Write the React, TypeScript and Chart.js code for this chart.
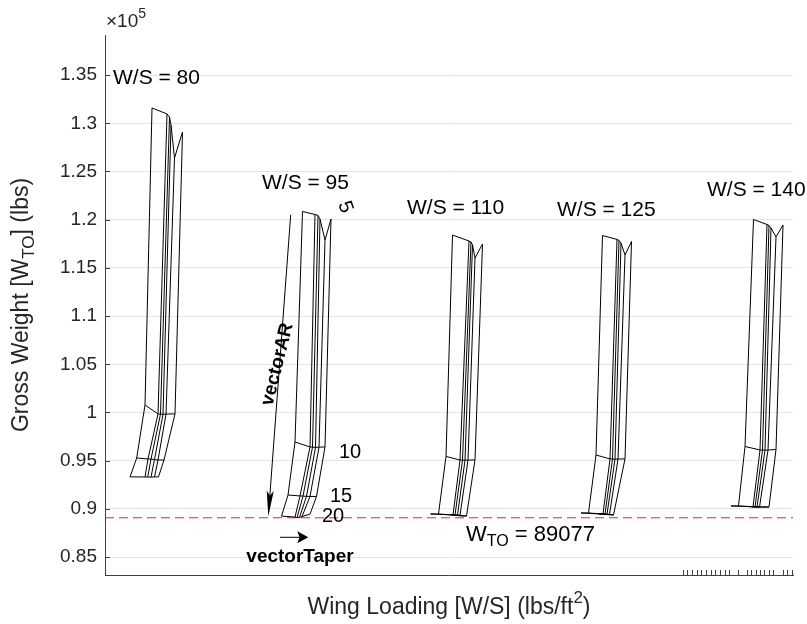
import { useEffect, useRef } from 'react';
import { Chart, registerables } from 'chart.js';
Chart.register(...registerables);

const FONT = '"Liberation Sans", Arial, Helvetica, sans-serif';

// Carpet plot: rows = aspect ratio 5, 10, 15, 20 ; columns = taper lines (vectorTaper)
const wingLoadings = [80, 95, 110, 125, 140];
const aspectRatios = [5, 10, 15, 20];

// shifted carpet abscissa (arbitrary units)
const carpetX_WS80 = [
  [47, 62, 64.5, 66, 69.5, 77.5],
  [40, 53, 55.5, 58, 61, 70],
  [31.7, 43, 46, 49.5, 53, 59],
  [25, 40, 42.7, 46, 49.5, 53.5],
];
const gtow_WS80 = [
  [131590, 130970, 130650, 129820, 126400, 129100],
  [100780, 99850, 99830, 99810, 99830, 99860],
  [95280, 95180, 95170, 95125, 95070, 95070],
  [93320, 93310, 93300, 93300, 93310, 93320],
];

const carpetX_WS95 = [
  [197.5, 210, 213, 215, 220, 226],
  [190, 205, 207.5, 210.5, 214, 220],
  [183, 195, 198, 201.5, 205, 211.5],
  [176.5, 190, 192, 194.5, 197, 205],
];
const gtow_WS95 = [
  [120850, 120540, 120440, 120070, 117890, 120070],
  [96940, 96420, 96400, 96380, 96400, 96430],
  [91440, 91340, 91330, 91300, 91290, 91290],
  [89250, 89150, 89077, 89120, 89200, 89450],
];

const carpetX_WS110 = [
  [347.5, 364, 366, 367.5, 370, 377.5],
  [341, 355, 357.5, 360, 363, 370],
  [333.5, 348, 350, 352.5, 355, 361.5],
  [325.5, 345, 347, 349, 351, 357],
];
const gtow_WS110 = [
  [118410, 117790, 117690, 117380, 116030, 117480],
  [95440, 95070, 95060, 95050, 95060, 95080],
  [89470, 89370, 89360, 89350, 89340, 89260],
  [89470, 89380, 89370, 89360, 89320, 89260],
];

const carpetX_WS125 = [
  [497.5, 512, 514, 516, 520, 526.5],
  [491, 505, 507.5, 510, 513, 520],
  [483.5, 498, 500, 502, 504.5, 508.5],
  [476, 493, 495, 497, 499, 505],
];
const gtow_WS125 = [
  [118360, 117950, 117840, 117580, 116340, 117740],
  [95590, 95180, 95170, 95160, 95170, 95190],
  [89575, 89470, 89460, 89450, 89420, 89370],
  [89575, 89480, 89470, 89460, 89430, 89380],
];

const carpetX_WS140 = [
  [648.5, 662, 664, 666, 671, 678],
  [640, 655, 657.5, 660, 663, 671],
  [633.5, 648, 650, 652, 654.5, 664],
  [626, 645, 647, 649, 651, 660],
];
const gtow_WS140 = [
  [120020, 119500, 119400, 119140, 118210, 119450],
  [96470, 96110, 96100, 96090, 96100, 96160],
  [90300, 90200, 90190, 90180, 90180, 90200],
  [90300, 90250, 90240, 90230, 90220, 90200],
];

const minGTOW = 89077;

const yTicks = [85000, 90000, 95000, 100000, 105000, 110000, 115000, 120000, 125000, 130000, 135000];
const yMin = 83140;
const yMax = 139160;
const xMin = 0;
const xMax = 688;

// stray x-axis minor ticks (bottom right)
const xMinorTicks = [577.7, 582.3, 587, 591.7, 596.3, 601, 605.7, 610.3, 615, 619.7, 624.3, 632.7, 641.7, 646, 650.7, 655, 659.3, 663.7, 668.3, 677.7, 682.3, 687.3];

// annotation anchors (data units)
const wsLabelX = [8, 157, 302, 452, 602];
const wsLabelY = [134700, 123800, 121200, 121000, 123100];
const arLabelX = [240, 234, 225, 217];
const arLabelY = [121300, 95900, 91240, 89260];
const arArrow = { x0: 185.7, y0: 120500, x1: 163.3, y1: 89200 };
const arText = { x: 172.5, y: 105000 };
const taperArrow = { x0: 175, y0: 87050, x1: 203.3, y1: 87050 };
const taperText = { x: 195, y: 85000 };
const minText = { x: 361, y: 87300 };

const carpets = [
  { x: carpetX_WS80, w: gtow_WS80 },
  { x: carpetX_WS95, w: gtow_WS95 },
  { x: carpetX_WS110, w: gtow_WS110 },
  { x: carpetX_WS125, w: gtow_WS125 },
  { x: carpetX_WS140, w: gtow_WS140 },
];

type Part = { t: string; sub?: boolean; sup?: boolean };

function drawRich(
  ctx: CanvasRenderingContext2D,
  parts: Part[],
  x: number,
  y: number,
  size: number,
  opts: { align?: 'left' | 'center'; rotate?: number; bold?: boolean; color?: string } = {}
) {
  ctx.save();
  ctx.translate(x, y);
  if (opts.rotate) ctx.rotate(opts.rotate);
  const weight = opts.bold ? 'bold ' : '';
  const fontFor = (p: Part) => `${weight}${p.sub || p.sup ? Math.round(size * 0.72) : size}px ${FONT}`;
  let total = 0;
  const widths = parts.map((p) => {
    ctx.font = fontFor(p);
    const w = ctx.measureText(p.t).width;
    total += w;
    return w;
  });
  let cx = opts.align === 'center' ? -total / 2 : 0;
  ctx.textBaseline = 'middle';
  ctx.textAlign = 'left';
  ctx.fillStyle = opts.color || '#000';
  parts.forEach((p, i) => {
    ctx.font = fontFor(p);
    const dy = p.sub ? size * 0.32 : p.sup ? -size * 0.42 : 0;
    ctx.fillText(p.t, cx, dy);
    cx += widths[i];
  });
  ctx.restore();
}

function arrow(ctx: CanvasRenderingContext2D, x0: number, y0: number, x1: number, y1: number, len: number, half: number) {
  const a = Math.atan2(y1 - y0, x1 - x0);
  ctx.save();
  ctx.strokeStyle = '#000';
  ctx.fillStyle = '#000';
  ctx.lineWidth = 1;
  ctx.beginPath();
  ctx.moveTo(x0, y0);
  ctx.lineTo(x1 - Math.cos(a) * len * 0.8, y1 - Math.sin(a) * len * 0.8);
  ctx.stroke();
  ctx.translate(x1, y1);
  ctx.rotate(a);
  ctx.beginPath();
  ctx.moveTo(0, 0);
  ctx.lineTo(-len, -half);
  ctx.lineTo(-len * 0.8, 0);
  ctx.lineTo(-len, half);
  ctx.closePath();
  ctx.fill();
  ctx.restore();
}

export default function App() {
  const ref = useRef<HTMLCanvasElement>(null);
  useEffect(() => {
    document.body.style.margin = '0';
    const canvas = ref.current!;
    const datasets: any[] = [];
    const mk = (xs: number[], ws: number[]) => ({
      data: xs.map((x, i) => ({ x, y: ws[i] })),
      showLine: true,
      borderColor: '#000',
      borderWidth: 1,
      pointRadius: 0,
      fill: false,
    });
    carpets.forEach(({ x, w }) => {
      for (let j = 0; j < x[0].length; j++) datasets.push(mk(x.map((r) => r[j]), w.map((r) => r[j])));
      for (let i = 0; i < x.length; i++) datasets.push(mk(x[i], w[i]));
    });
    datasets.push({
      data: [
        { x: xMin, y: minGTOW },
        { x: xMax, y: minGTOW },
      ],
      showLine: true,
      borderColor: '#ff1a1a',
      borderDash: [9, 5],
      borderWidth: 1,
      pointRadius: 0,
    });

    const annot = {
      id: 'annot',
      afterDraw(chart: any) {
        const ctx: CanvasRenderingContext2D = chart.ctx;
        const xs = chart.scales.x;
        const ys = chart.scales.y;
        const area = chart.chartArea;
        const px = (v: number) => xs.getPixelForValue(v);
        const py = (v: number) => ys.getPixelForValue(v);
        ctx.save();
        // inner y ticks and stray x ticks
        ctx.strokeStyle = '#404040';
        ctx.lineWidth = 1;
        ctx.beginPath();
        yTicks.forEach((v) => {
          const y = Math.round(py(v)) + 0.5;
          ctx.moveTo(area.left, y);
          ctx.lineTo(area.left + 5, y);
        });
        xMinorTicks.forEach((v) => {
          const x = Math.round(px(v)) + 0.5;
          ctx.moveTo(x, area.bottom);
          ctx.lineTo(x, area.bottom - 5);
        });
        ctx.stroke();
        ctx.restore();

        // W/S labels
        wingLoadings.forEach((ws, i) => {
          drawRich(ctx, [{ t: `W/S = ${ws}` }], px(wsLabelX[i]), py(wsLabelY[i]), 21);
        });
        // AR labels
        aspectRatios.forEach((ar, i) => {
          if (i === 0) {
            drawRich(ctx, [{ t: `${ar}` }], px(arLabelX[i]), py(arLabelY[i]), 20, { align: 'center', rotate: (70 * Math.PI) / 180 });
          } else {
            drawRich(ctx, [{ t: `${ar}` }], px(arLabelX[i]), py(arLabelY[i]), 20);
          }
        });
        // AR arrow
        arrow(ctx, px(arArrow.x0), py(arArrow.y0), px(arArrow.x1), py(arArrow.y1), 26, 3.5);
        drawRich(ctx, [{ t: 'vectorAR' }], px(arText.x), py(arText.y), 19, {
          align: 'center',
          rotate: (-76 * Math.PI) / 180,
          bold: true,
        });
        // taper arrow
        arrow(ctx, px(taperArrow.x0), py(taperArrow.y0), px(taperArrow.x1), py(taperArrow.y1), 11, 6);
        drawRich(ctx, [{ t: 'vectorTaper' }], px(taperText.x), py(taperText.y), 19, { align: 'center', bold: true });
        // min text
        drawRich(ctx, [{ t: 'W' }, { t: 'TO', sub: true }, { t: ` = ${minGTOW}` }], px(minText.x), py(minText.y), 22);

        // exponent
        drawRich(ctx, [{ t: '\u00d710' }, { t: '5', sup: true }], area.left + 1, 22, 19, { color: '#262626' });
        // axis titles
        drawRich(
          ctx,
          [{ t: 'Gross Weight [W' }, { t: 'TO', sub: true }, { t: '] (lbs)' }],
          22,
          (area.top + area.bottom) / 2,
          23,
          { align: 'center', rotate: -Math.PI / 2, color: '#262626' }
        );
        drawRich(
          ctx,
          [{ t: 'Wing Loading [W/S] (lbs/ft' }, { t: '2', sup: true }, { t: ')' }],
          (area.left + area.right) / 2,
          608,
          23,
          { align: 'center', color: '#262626' }
        );
      },
    };

    const chart = new Chart(canvas, {
      type: 'scatter',
      data: { datasets },
      options: {
        responsive: false,
        animation: false,
        devicePixelRatio: 1,
        layout: { padding: { left: 0, right: 14, top: 35, bottom: 0 } },
        plugins: { legend: { display: false }, tooltip: { enabled: false } },
        scales: {
          x: {
            type: 'linear',
            min: xMin,
            max: xMax,
            ticks: { display: false },
            grid: { display: false, drawTicks: false },
            border: { display: true, color: '#404040', width: 1 },
            afterFit: (s: any) => {
              s.height = 49;
            },
          },
          y: {
            type: 'linear',
            min: yMin,
            max: yMax,
            afterBuildTicks: (s: any) => {
              s.ticks = yTicks.map((v) => ({ value: v }));
            },
            ticks: {
              callback: (v: any) => String(Number((Number(v) / 1e5).toFixed(2))),
              font: { family: FONT, size: 19 },
              color: '#262626',
              padding: 8,
            },
            grid: { color: '#e3e3e3', drawTicks: false, lineWidth: 1 },
            border: { display: true, color: '#404040', width: 1 },
            afterFit: (s: any) => {
              s.width = 105;
            },
          },
        },
      },
      plugins: [annot],
    });
    return () => chart.destroy();
  }, []);
  return (
    <div style={{ position: 'absolute', left: 0, top: 0, width: 807, height: 624 }}>
      <canvas ref={ref} width={807} height={624} style={{ display: 'block' }} />
    </div>
  );
}
